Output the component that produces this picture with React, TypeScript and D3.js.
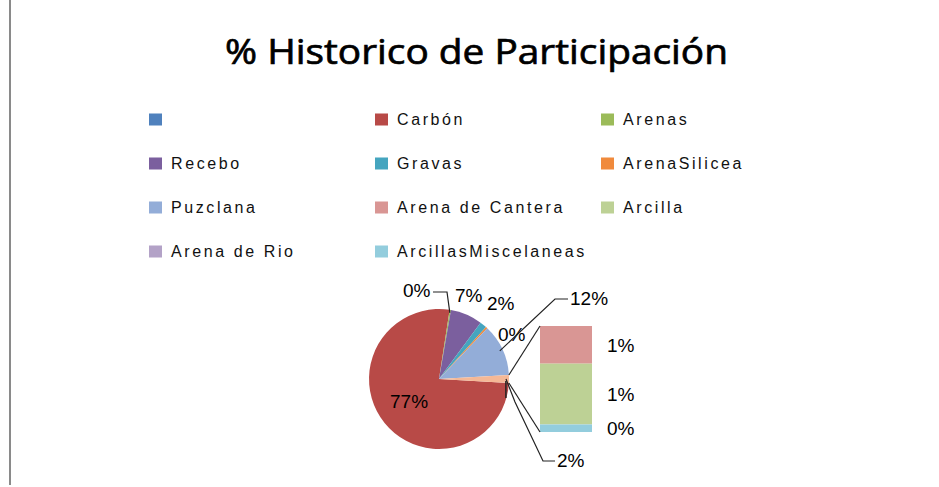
import React from "react";
import * as d3 from "d3";

const title = "% Historico de Participación";
const categories = ["", "Carbón", "Arenas", "Recebo", "Gravas", "ArenaSilicea", "Puzclana", "Arena de Cantera", "Arcilla", "Arena de Rio", "ArcillasMiscelaneas"];
const values = [0, 76.7, 0.3, 7.4, 1.6, 0.4, 12.0, 0.65, 1.05, 0, 0.13];
const colors = ["#4F81BD", "#B84A47", "#9BBB59", "#7B5F9E", "#45A5BF", "#F08A3C", "#93ADD8", "#D99694", "#BDD195", "#B3A2C7", "#93CDDD"];
const otherColor = "#F5B896";
const splitIndex = 7; // items from this index go into the bar

const W = 939, H = 487;
const cx = 439, cy = 379, R = 70;

// label layout for pie slices (offsets from pie centre, baseline-left), by category
const pieLabelLayout: Record<string, { dx: number; dy: number; leader?: number[][] }> = {
  "Carbón": { dx: -49, dy: 29 },
  "Arenas": { dx: -36, dy: -82, leader: [[-6, -87], [8, -87]] },
  "Recebo": { dx: 16, dy: -77 },
  "Gravas": { dx: 48, dy: -69 },
  "ArenaSilicea": { dx: 59, dy: -38 },
  "Puzclana": { dx: 131, dy: -74, leader: [[129, -80], [116, -80]] },
  "Otro": { dx: 118, dy: 88, leader: [[116, 82], [104, 82], [76, 23]] },
};

export default function App() {
  const total = d3.sum(values);
  const pct = (v: number) => `${Math.round((v / total) * 100)}%`;
  const otherValue = d3.sum(values.slice(splitIndex));
  const pieItems = categories.slice(0, splitIndex).map((c, i) => ({ name: c, value: values[i], color: colors[i] }));
  pieItems.push({ name: "Otro", value: otherValue, color: otherColor });

  const otherAngle = (otherValue / total) * 2 * Math.PI;
  const start = Math.PI / 2 + otherAngle / 2;
  const pie = d3.pie<any>().value((d) => d.value).sort(null).startAngle(start).endAngle(start + 2 * Math.PI);
  const arcs = pie(pieItems);
  const arcGen = d3.arc<any>().innerRadius(0).outerRadius(R);
  const pt = (a: number, r: number) => [cx + r * Math.sin(a), cy - r * Math.cos(a)];

  // bar
  const barX = 540, barW = 52, barTop = 326, barH = 106;
  const yScale = d3.scaleLinear().domain([0, otherValue]).range([0, barH]);
  const barItems = categories.slice(splitIndex).map((c, i) => ({ name: c, value: values[splitIndex + i], color: colors[splitIndex + i] }));
  let acc = 0;
  const barSegs = barItems.map((b) => {
    const y0 = barTop + yScale(acc);
    acc += b.value;
    const y1 = barTop + yScale(acc);
    return { ...b, y0, y1 };
  });

  const otherArc = arcs[arcs.length - 1];
  const pTop = pt(otherArc.startAngle, R);
  const pBot = pt(otherArc.endAngle, R);

  // legend
  const legendX0 = 149, legendDX = 226, legendY0 = 119.5, legendDY = 44;

  return (
    <svg width={W} height={H} style={{ position: "absolute", left: 0, top: 0, background: "#fff" }}>
      <rect x={0} y={0} width={W} height={H} fill="#fff" />
      <line x1={10} y1={0} x2={10} y2={485} stroke="#8a8a8a" strokeWidth={2} />
      <text x={476.5} y={64} textAnchor="middle" fontFamily="Open Sans, Liberation Sans, sans-serif" fontSize={35} textLength={503} lengthAdjust="spacingAndGlyphs" fill="#000" stroke="#000" strokeWidth={0.7}>
        {title}
      </text>

      {categories.map((c, i) => {
        const col = i % 3, row = Math.floor(i / 3);
        const x = legendX0 + col * legendDX;
        const y = legendY0 + row * legendDY;
        return (
          <g key={"lg" + i}>
            <rect x={x} y={y - 6} width={13} height={12} fill={colors[i]} />
            <text x={x + 22} y={y + 5.5} fontFamily="Liberation Sans, Arial, sans-serif" fontSize={16} letterSpacing={2.6} fill="#111">
              {c}
            </text>
          </g>
        );
      })}

      {arcs.map((a, i) => (
        <path key={"s" + i} d={arcGen(a) as string} transform={`translate(${cx},${cy})`} fill={a.data.color} stroke="none" />
      ))}

      {barSegs.map((b, i) => (
        <rect key={"b" + i} x={barX} y={b.y0} width={barW} height={Math.max(0, b.y1 - b.y0)} fill={b.color} />
      ))}

      <line x1={pTop[0]} y1={pTop[1]} x2={barX} y2={barTop} stroke="#222" strokeWidth={1.2} />
      <line x1={pBot[0]} y1={pBot[1]} x2={barX} y2={barTop + barH} stroke="#222" strokeWidth={1.2} />
      <line x1={pBot[0] - 3} y1={pBot[1] - 2} x2={pBot[0] - 3} y2={pBot[1] + 15} stroke="#222" strokeWidth={1.5} />

      {arcs.map((a, i) => {
        const lay = pieLabelLayout[a.data.name];
        if (!lay) return null;
        const mid = (a.startAngle + a.endAngle) / 2;
        let leader = null;
        if (lay.leader) {
          const end = pt(mid, R - 3);
          const pts = lay.leader.map(([x, y]) => [cx + x, cy + y]).concat([end]);
          leader = <polyline points={pts.map((p) => p.join(",")).join(" ")} fill="none" stroke="#222" strokeWidth={1.2} />;
        }
        return (
          <g key={"pl" + i}>
            {leader}
            <text x={cx + lay.dx} y={cy + lay.dy} fontFamily="Liberation Sans, Arial, sans-serif" fontSize={19} fill="#000">
              {pct(a.data.value)}
            </text>
          </g>
        );
      })}

      {barSegs.map((b, i) =>
        b.value > 0 ? (
          <text key={"bl" + i} x={607} y={(b.y0 + b.y1) / 2 + 7} fontFamily="Liberation Sans, Arial, sans-serif" fontSize={19} fill="#000">
            {pct(b.value)}
          </text>
        ) : null
      )}
    </svg>
  );
}
